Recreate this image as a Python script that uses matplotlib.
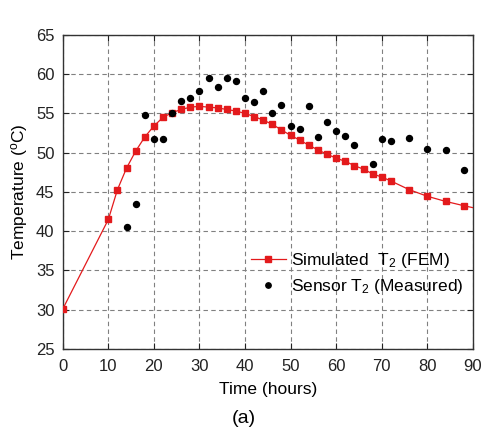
import matplotlib
matplotlib.use("Agg")
import matplotlib.pyplot as plt

plt.rcParams['font.family'] = ['Liberation Sans', 'DejaVu Sans']
plt.rcParams['mathtext.fontset'] = 'custom'
plt.rcParams['mathtext.rm'] = 'Liberation Sans'
plt.rcParams['mathtext.it'] = 'Liberation Sans'

sim_t = [0, 10, 12, 14, 16, 18, 20, 22, 24, 26, 28, 30, 32, 34, 36, 38, 40, 42, 44,
         46, 48, 50, 52, 54, 56, 58, 60, 62, 64, 66, 68, 70, 72, 76, 80, 84, 88, 90]
sim_T = [30.1, 41.5, 45.3, 48.05, 50.2, 52.0, 53.4, 54.5, 55.1, 55.5, 55.8, 55.9, 55.8,
         55.7, 55.5, 55.3, 55.0, 54.6, 54.15, 53.6, 52.9, 52.2, 51.6, 50.95, 50.35,
         49.8, 49.3, 48.9, 48.35, 47.9, 47.3, 46.9, 46.4, 45.3, 44.45, 43.8, 43.25, 43.0]

sen_t = [14, 16, 18, 20, 22, 24, 26, 28, 30, 32, 34, 36, 38, 40, 42, 44, 46, 48, 50,
         52, 54, 56, 58, 60, 62, 64, 68, 70, 72, 76, 80, 84, 88]
sen_T = [40.6, 43.5, 54.8, 51.8, 51.8, 55.0, 56.55, 56.9, 57.8, 59.5, 58.4, 59.5, 59.1,
         57.0, 56.4, 57.8, 55.1, 56.1, 53.4, 53.0, 56.0, 52.0, 53.9, 52.7, 52.1, 51.0,
         48.6, 51.8, 51.5, 51.9, 50.5, 50.3, 47.8]

xticks = [0, 10, 20, 30, 40, 50, 60, 70, 80, 90]
yticks = [25, 30, 35, 40, 45, 50, 55, 60, 65]

fig = plt.figure(figsize=(4.83, 4.36), dpi=100)
ax = fig.add_axes([0.130, 0.1995, 0.849, 0.7205])

ax.plot(sim_t, sim_T, color='#e31a1c', lw=0.9, marker='s', ms=4.3,
        markevery=list(range(len(sim_t) - 1)), clip_on=True,
        label=r'Simulated  T$_2$ (FEM)', zorder=3)
ax.plot(sen_t, sen_T, linestyle='none', marker='o', ms=4.3, color='black',
        label=r'Sensor T$_2$ (Measured)', zorder=4)

ax.set_xlim(0, 90)
ax.set_ylim(25, 65)
ax.set_xticks(xticks)
ax.set_yticks(yticks)
ax.grid(True, linestyle=(0, (4, 3)), color='#808080', lw=0.8)
ax.tick_params(direction='in', top=True, right=True, length=4, width=0.8,
               labelsize=12, colors='#222222')
ax.tick_params(axis='x', pad=7)
ax.tick_params(axis='y', pad=6)
for s in ax.spines.values():
    s.set_color('#333333')
    s.set_linewidth(1.0)

ax.set_xlabel('Time (hours)', fontsize=12.5, labelpad=6)
ax.set_ylabel(r'Temperature ($^o$C)', fontsize=12.5, labelpad=4)

leg = ax.legend(loc='lower right', bbox_to_anchor=(1.015, 0.12), frameon=False,
                fontsize=12.5, handlelength=2.0, handletextpad=0.3,
                labelspacing=0.4, markerscale=0.9)

fig.text(0.505, 0.04, '(a)', ha='center', va='center', fontsize=14)

fig.savefig('out.png', dpi=100)
